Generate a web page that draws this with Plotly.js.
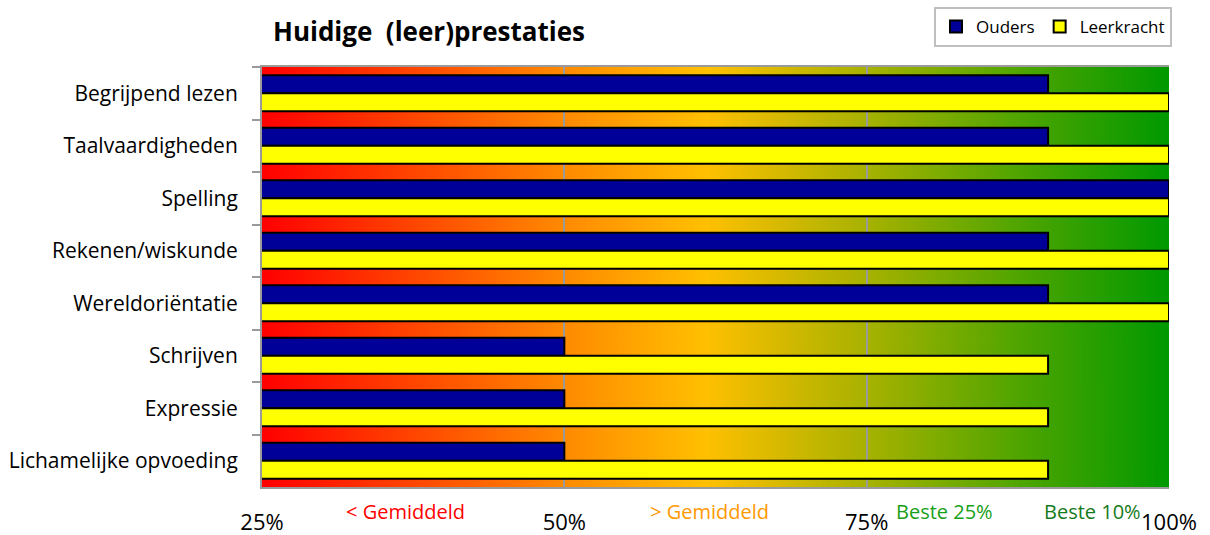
<!DOCTYPE html>
<html>
<head>
<meta charset="utf-8">
<script src="https://cdn.plot.ly/plotly-3.0.1.min.js"></script>
<style>html,body{margin:0;padding:0;background:#fff;}#chart{width:1210px;height:535px;}</style>
</head>
<body>
<div id="chart"></div>
<script>
const categories = ["Begrijpend lezen","Taalvaardigheden","Spelling","Rekenen/wiskunde","Wereldoriëntatie","Schrijven","Expressie","Lichamelijke opvoeding"];
const ouders = [90, 90, 100, 90, 90, 50, 50, 50];
const leerkracht = [100, 100, 100, 100, 100, 90, 90, 90];
const xTicks = [25, 50, 75, 100];
const zoneLabels = ["< Gemiddeld", "> Gemiddeld", "Beste 25%", "Beste 10%"];
const zoneCenters = [36.9, 62.0, 81.4, 93.7];
const zoneColors = ["#ff0000", "#ff9900", "#18a018", "#157a1c"];

// background gradient image
const cv = document.createElement('canvas');
cv.width = 907; cv.height = 10;
const ctx = cv.getContext('2d');
const g = ctx.createLinearGradient(0, 0, 907, 0);
g.addColorStop(0, '#ff0000');
g.addColorStop(0.333, '#ff8a00');
g.addColorStop(0.49, '#ffc000');
g.addColorStop(0.665, '#a8b200');
g.addColorStop(0.85, '#48a400');
g.addColorStop(1, '#009900');
ctx.fillStyle = g; ctx.fillRect(0, 0, 907, 10);
const bgUrl = cv.toDataURL('image/png');

const font = "'Open Sans', 'Noto Sans', sans-serif";

const traces = [
  {type:'bar', orientation:'h', name:'Ouders', y:categories, x:ouders,
   marker:{color:'#000099', line:{color:'#000000', width:2}}},
  {type:'bar', orientation:'h', name:'Leerkracht', y:categories, x:leerkracht,
   marker:{color:'#ffff00', line:{color:'#000000', width:2}}}
];

const annotations = zoneLabels.map((t, i) => ({
  text: t, x: zoneCenters[i], xref: 'x', y: (535 - 511 - 48) / 420, yref: 'paper',
  showarrow: false, font: {family: font, size: 20, color: zoneColors[i]},
  xanchor: 'center', yanchor: 'middle'
}));

const layout = {
  width: 1210, height: 535,
  margin: {l: 262, r: 41, t: 67, b: 48},
  paper_bgcolor: '#ffffff', plot_bgcolor: 'rgba(0,0,0,0)',
  barmode: 'group', bargap: 0.31, bargroupgap: 0,
  title: {text: 'Huidige\u00a0 (leer)prestaties', font: {family: font, size: 26, color: '#000', weight: 'bold'},
          x: 11/907, xref: 'paper', xanchor: 'left', y: 1 - 32/535, yref: 'container', yanchor: 'middle'},
  font: {family: font, color: '#000'},
  showlegend: true,
  legend: {orientation: 'h', x: 1.0033, xanchor: 'right', y: 1 - 7/535, yref: 'container', yanchor: 'top',
           bordercolor: '#bfbfbf', borderwidth: 2, bgcolor: '#fff', font: {family: font, size: 17, color: '#000'},
           traceorder: 'normal', itemwidth: 30},
  xaxis: {range: [25, 100], tickvals: xTicks, ticktext: xTicks.map(v => v + '%'),
          showgrid: true, gridcolor: '#9a9a9a', gridwidth: 2, zeroline: false,
          showline: true, linecolor: '#9a9a9a', linewidth: 2, mirror: true,
          ticks: '', ticklabelstandoff: 15, tickfont: {family: font, size: 22, color: '#000'}, fixedrange: true},
  xaxis2: {range: [25, 100], tickvals: xTicks, overlaying: 'x', side: 'top', anchor: 'y',
           showgrid: false, showticklabels: false, ticks: 'outside', ticklen: 7, tickwidth: 2, tickcolor: '#9a9a9a',
           showline: false, zeroline: false},
  yaxis: {autorange: 'reversed', type: 'category', tickson: 'boundaries', ticks: 'outside', ticklen: 8, tickwidth: 2,
          tickcolor: '#9a9a9a', showline: true, linecolor: '#9a9a9a', linewidth: 2, showgrid: false, zeroline: false,
          ticklabelstandoff: 18, tickfont: {family: font, size: 21, color: '#000'}},
  images: [{source: bgUrl, xref: 'paper', yref: 'paper', x: 0, y: 1, sizex: 1, sizey: 1,
            sizing: 'stretch', layer: 'below', xanchor: 'left', yanchor: 'top'}],
  annotations: annotations
};

Plotly.newPlot('chart', traces, layout, {displayModeBar: false, staticPlot: true});
</script>
</body>
</html>
